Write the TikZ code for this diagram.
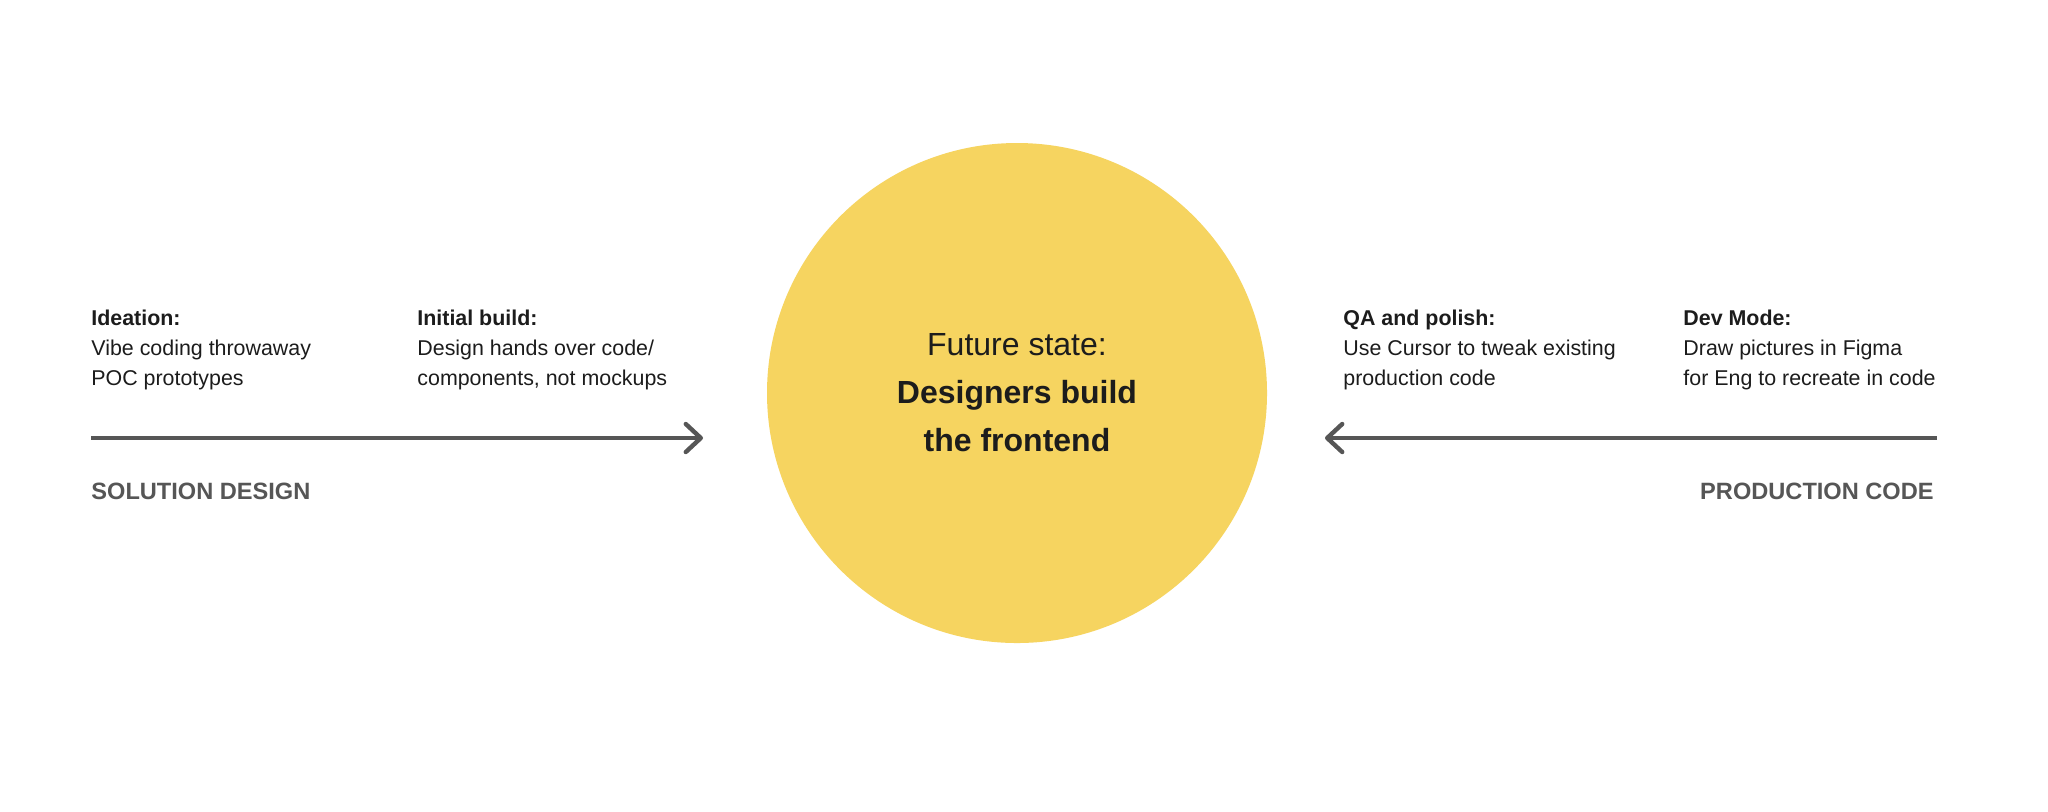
\documentclass[tikz,border=0pt]{standalone}
\usepackage{fontspec}
\setmainfont{Liberation Sans}
\usepackage{tikz}
\usetikzlibrary{arrows.meta, positioning}
\definecolor{sunflower}{HTML}{F6D460}
\definecolor{inkgray}{HTML}{565656}
\definecolor{inkdark}{HTML}{1C1C1C}
\tikzstyle{stage} = [anchor=base west, align=left, inner sep=0pt, text=inkdark, font=\fontsize{10.7}{15}\selectfont]
\tikzstyle{track} = [inner sep=0pt, text=inkgray, font=\fontsize{11.8}{14}\selectfont\bfseries]
\tikzstyle{goal} = [circle, minimum size=250pt, inner sep=0pt, fill=sunflower, align=center, text=inkdark, font=\fontsize{16}{24}\selectfont]
\tikzstyle{arrow} = [line width=2.2pt, draw=inkgray, -{Straight Barb[length=7.5pt, width=14pt, round]}]

\begin{document}
\begin{tikzpicture}[x=0.5pt, y=-0.5pt]
                \fill[white] (0,0) rectangle (2048,811);
                \useasboundingbox (0,0) rectangle (2048,811);
                \node (future) [goal] at (1017,393) {Future state:\\\textbf{Designers build}\\\textbf{the frontend}};
                \node (ideation) [stage] at (91,385) {\textbf{Ideation:}\\Vibe coding throwaway\\POC prototypes};
                \node (initial) [stage] at (417,385) {\textbf{Initial build:}\\Design hands over code/\\components, not mockups};
                \node (qa) [stage] at (1343,385) {\textbf{QA and polish:}\\Use Cursor to tweak existing\\production code};
                \node (devmode) [stage] at (1683,385) {\textbf{Dev Mode:}\\Draw pictures in Figma\\for Eng to recreate in code};
                \coordinate (sdstart) at (91,438);
                \coordinate (sdend) at (703,438);
                \coordinate (pcstart) at (1937,438);
                \coordinate (pcend) at (1325,438);
                \node (soldesign) [track, anchor=base west] at (91,499) {SOLUTION DESIGN};
                \node (prodcode) [track, anchor=base east] at (1934,499) {PRODUCTION CODE};
                \draw [arrow] (sdstart) -- (sdend);
                \draw [arrow] (pcstart) -- (pcend);
            \end{tikzpicture}
\end{document}
